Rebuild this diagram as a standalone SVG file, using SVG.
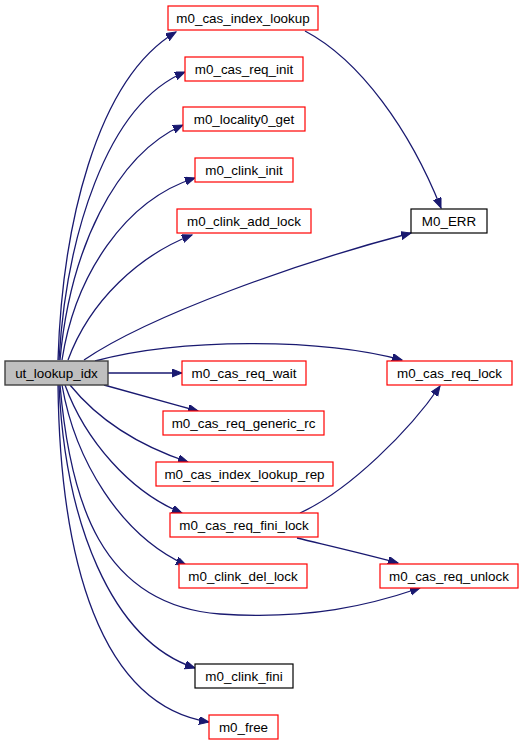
<svg xmlns="http://www.w3.org/2000/svg" width="524" height="747" viewBox="0 0 524 747">
<style>
.n rect{fill:#ffffff;stroke:#ff0000;stroke-width:1.2}
.n.b rect{stroke:#000000}
.n.root rect{fill:#bfbfbf;stroke:#404040;stroke-width:1.4}
.n text{font-family:"Liberation Sans",Arial,sans-serif;font-size:13.4px;fill:#000000;text-anchor:middle}
#edges path{fill:none;stroke:#191970;stroke-width:1.3;marker-end:url(#arr)}
</style>
<defs>
<marker id="arr" markerUnits="userSpaceOnUse" markerWidth="12" markerHeight="9" refX="10" refY="4" orient="auto">
<path d="M0,0 L10,4 L0,8 z" fill="#191970" stroke="#191970" stroke-width="1"/>
</marker>
</defs>
<rect x="0" y="0" width="524" height="747" fill="#ffffff"/>
<g id="edges">
<path d="M58,360 C62,230 95,80 176,32"/>
<path d="M59,360 C66,240 105,105 185,72"/>
<path d="M60,360 C70,250 115,155 183,125"/>
<path d="M62,360 C75,275 125,200 195,178"/>
<path d="M68,360 C90,300 140,255 192,235"/>
<path d="M84,360 C150,315 300,262 411,233"/>
<path d="M95,361 C180,338 320,338 402,360"/>
<path d="M108,373 L182,373"/>
<path d="M104,385 C130,392 165,402 198,411"/>
<path d="M70,385 C100,422 140,446 188,462"/>
<path d="M65,385 C85,440 130,492 182,513"/>
<path d="M62,385 C75,460 120,535 186,565"/>
<path d="M60,385 C70,500 100,605 220,614 C310,620 370,605 420,588"/>
<path d="M59,385 C65,520 110,640 195,668"/>
<path d="M58,385 C60,560 100,705 209,722"/>
<path d="M305,31 C360,60 410,130 441,208"/>
<path d="M300,513 C350,490 410,430 440,386"/>
<path d="M297,538 C330,546 365,554 398,563"/>
</g>
<g id="ut_lookup_idx" class="n root"><rect x="5" y="361" width="103" height="24"/><text x="56.5" y="378">ut_lookup_idx</text></g>
<g id="m0_cas_index_lookup" class="n"><rect x="168" y="6" width="150" height="24"/><text x="243" y="23">m0_cas_index_lookup</text></g>
<g id="m0_cas_req_init" class="n"><rect x="185" y="57" width="118" height="24"/><text x="244" y="74">m0_cas_req_init</text></g>
<g id="m0_locality0_get" class="n"><rect x="183" y="107" width="122" height="24"/><text x="244" y="124">m0_locality0_get</text></g>
<g id="m0_clink_init" class="n"><rect x="195" y="158" width="98" height="24"/><text x="244" y="175">m0_clink_init</text></g>
<g id="m0_clink_add_lock" class="n"><rect x="177" y="209" width="134" height="24"/><text x="244" y="226">m0_clink_add_lock</text></g>
<g id="M0_ERR" class="n b"><rect x="411" y="209" width="76" height="24"/><text x="449" y="226">M0_ERR</text></g>
<g id="m0_cas_req_lock" class="n"><rect x="387" y="361" width="125" height="24"/><text x="449.5" y="378">m0_cas_req_lock</text></g>
<g id="m0_cas_req_wait" class="n"><rect x="182" y="361" width="124" height="24"/><text x="244" y="378">m0_cas_req_wait</text></g>
<g id="m0_cas_req_generic_rc" class="n"><rect x="163" y="411" width="161" height="24"/><text x="243.5" y="428">m0_cas_req_generic_rc</text></g>
<g id="m0_cas_index_lookup_rep" class="n"><rect x="156" y="462" width="177" height="24"/><text x="244.5" y="479">m0_cas_index_lookup_rep</text></g>
<g id="m0_cas_req_fini_lock" class="n"><rect x="170" y="513" width="148" height="24"/><text x="244" y="530">m0_cas_req_fini_lock</text></g>
<g id="m0_clink_del_lock" class="n"><rect x="179" y="564" width="128" height="24"/><text x="243" y="581">m0_clink_del_lock</text></g>
<g id="m0_cas_req_unlock" class="n"><rect x="380" y="564" width="138" height="24"/><text x="449" y="581">m0_cas_req_unlock</text></g>
<g id="m0_clink_fini" class="n b"><rect x="195" y="664" width="98" height="24"/><text x="244" y="681">m0_clink_fini</text></g>
<g id="m0_free" class="n"><rect x="209" y="715" width="69" height="24"/><text x="243.5" y="732">m0_free</text></g>
</svg>
